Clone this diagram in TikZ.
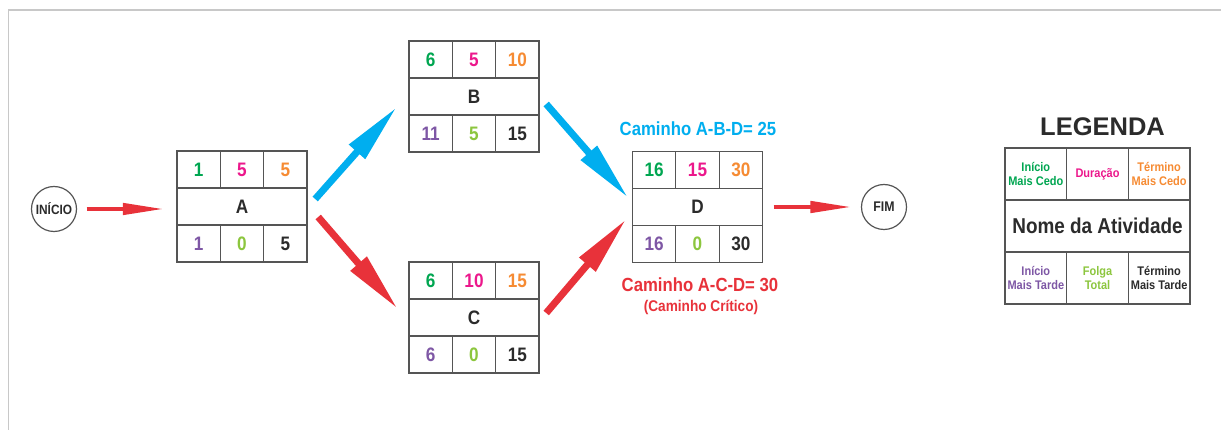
\documentclass[tikz,border=0pt]{standalone}
\usepackage{fontspec}
\setmainfont{Liberation Sans}
\newfontfamily\condfont{Liberation Sans}[FakeStretch=0.88]
\usetikzlibrary{arrows.meta}
\definecolor{cgreen}{HTML}{00A651}
\definecolor{cpink}{HTML}{EC188C}
\definecolor{corange}{HTML}{F68B33}
\definecolor{cpurple}{HTML}{7E57A5}
\definecolor{clime}{HTML}{8CC63E}
\definecolor{cdark}{HTML}{2B2B2B}
\definecolor{cblue}{HTML}{00AEEF}
\definecolor{cred}{HTML}{E8323A}
\definecolor{boxline}{HTML}{555555}
\definecolor{framegray}{HTML}{C8C8C8}
\tikzset{
  cell/.style={draw=boxline, line width=1.2pt, minimum width=43.33pt, minimum height=37pt,
    inner sep=0pt, font=\condfont\bfseries\fontsize{19.5}{19.5}\selectfont},
  namecell/.style={cell, minimum width=130pt, text=cdark},
  boxframe/.style={minimum width=130pt, minimum height=111pt, inner sep=0pt},
  evt/.style={circle, draw=boxline, line width=1.2pt, minimum size=45pt, inner sep=0pt,
    text=cdark, font=\condfont\bfseries\fontsize{13.5}{13.5}\selectfont},
  thinarrow/.style={line width=4.5pt, -{Triangle[length=42pt,width=11pt]}},
  fatarrow/.style={line width=7pt, -{Triangle[length=60pt,width=20pt]}},
  pathlabel/.style={font=\condfont\bfseries\fontsize{19}{19}\selectfont},
  legcell/.style={draw=boxline, line width=1.2pt, minimum width=61.67pt, minimum height=52pt,
    inner sep=0pt, align=center, font=\condfont\bfseries\fontsize{12.5}{14}\selectfont},
  legname/.style={legcell, minimum width=185pt, text=cdark, font=\condfont\bfseries\fontsize{21.5}{21.5}\selectfont},
}
\newcommand{\actbox}[9]{%
  \node[boxframe] (#1) at (#2,#3) {};
  \node[cell, text=cgreen]  (#1-es) at ([shift={(-43.33,-37)}]#1.center) {#4};
  \node[cell, text=cpink]   (#1-du) at ([shift={(0,-37)}]#1.center) {#5};
  \node[cell, text=corange] (#1-ef) at ([shift={(43.33,-37)}]#1.center) {#6};
  \node[namecell] (#1-nm) at (#1.center) {#1};
  \node[cell, text=cpurple] (#1-ls) at ([shift={(-43.33,37)}]#1.center) {#7};
  \node[cell, text=clime]   (#1-ft) at ([shift={(0,37)}]#1.center) {#8};
  \node[cell, text=cdark]   (#1-lf) at ([shift={(43.33,37)}]#1.center) {#9};
}
\begin{document}
\begin{tikzpicture}[x=1pt,y=-1pt]
\useasboundingbox (0,0) rectangle (1221,430);
\fill[white] (0,0) rectangle (1221,430);
% frame
\draw[framegray, line width=1.5pt] (8.5,430) -- (8.5,10) -- (1221,10);

% events
\node[evt] (ini) at (54,209) {INÍCIO};
\node[evt, font=\condfont\bfseries\fontsize{14}{14}\selectfont] (fim) at (884,207) {FIM};

% activities
\actbox{A}{242}{206.5}{1}{5}{5}{1}{0}{5}
\actbox{B}{474}{96.5}{6}{5}{10}{11}{5}{15}
\actbox{C}{474}{317.5}{6}{10}{15}{6}{0}{15}
\actbox{D}{697.5}{207}{16}{15}{30}{16}{0}{30}

% connectors
\draw[thinarrow, cred, shorten <=9.5pt, shorten >=12pt] (ini.east) -- (ini.east -| A.west);
\draw[fatarrow, cblue] ([shift={(8,-7.5)}]A.east) -- ([shift={(-12,10.5)}]B.west);
\draw[fatarrow, cred] ([shift={(11,10.5)}]A.east) -- ([shift={(-11,-8.5)}]C.west);
\draw[fatarrow, cblue] ([shift={(7,7.5)}]B.east) -- ([shift={(-4,-9)}]D.west);
\draw[fatarrow, cred] ([shift={(7,-4.5)}]C.east) -- ([shift={(-6,12)}]D.west);
\draw[thinarrow, cred, shorten <=11pt, shorten >=8.5pt] (D.east) -- (fim.west);

% path labels
\node[pathlabel, text=cblue] (pABD) at (698,129) {Caminho A-B-D= 25};
\node[pathlabel, text=cred] (pACD) at (700,285) {Caminho A-C-D= 30};
\node[text=cred, font=\condfont\bfseries\fontsize{15.5}{15.5}\selectfont] (crit) at (701,307) {(Caminho Crítico)};

% legend
\node[text=cdark, font=\bfseries\fontsize{25.5}{25.5}\selectfont] (legt) at (1102.5,127) {LEGENDA};
\node[legcell, text=cgreen]  (L-es) at (1035.83,174) {Início\\Mais Cedo};
\node[legcell, text=cpink]   (L-du) at (1097.5,174) {Duração};
\node[legcell, text=corange] (L-ef) at (1159.17,174) {Término\\Mais Cedo};
\node[legname] (L-nm) at (1097.5,226) {Nome da Atividade};
\node[legcell, text=cpurple] (L-ls) at (1035.83,278) {Início\\Mais Tarde};
\node[legcell, text=clime]   (L-ft) at (1097.5,278) {Folga\\Total};
\node[legcell, text=cdark]   (L-lf) at (1159.17,278) {Término\\Mais Tarde};
\end{tikzpicture}
\end{document}
